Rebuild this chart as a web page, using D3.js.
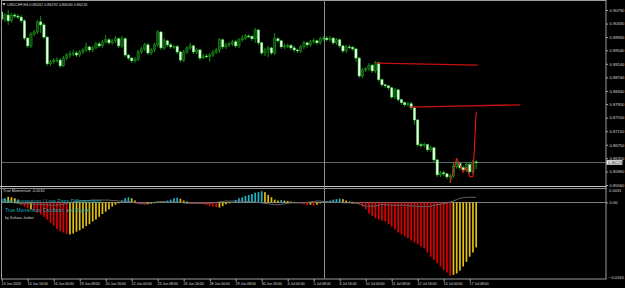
<!DOCTYPE html>
<html><head><meta charset="utf-8">
<script src="https://cdn.jsdelivr.net/npm/d3@7"></script>
<style>html,body{margin:0;padding:0;background:#000;overflow:hidden}</style>
</head><body><svg id="c" width="625" height="288"></svg>
<script>
// ---------- DATA ----------
const symbol = "USDCHF,H4";
const ohlcHeader = "0.86242 0.86292 0.86030 0.86226";
const timeLabels = ["13 Jun 2023","14 Jun 16:00","16 Jun 00:00","19 Jun 08:00","20 Jun 16:00","22 Jun 00:00","23 Jun 08:00","26 Jun 16:00","28 Jun 00:00","29 Jun 08:00","30 Jun 16:00","4 Jul 00:00","5 Jul 08:00","6 Jul 16:00","10 Jul 00:00","11 Jul 08:00","12 Jul 16:00","14 Jul 00:00","17 Jul 08:00"];
const timeTickBars = [0,8,16,24,32,40,48,56,64,72,80,88,96,104,112,120,128,136,144];
const priceTicks = [0.90730,0.90330,0.89930,0.89540,0.89140,0.88740,0.88340,0.87950,0.87550,0.87150,0.86750,0.86350,0.85960,0.85560];
const indTicks = [0.0031,-0.0165];
const lastPrice = 0.86226;

const open = [0.9067,0.9046,0.9058,0.9041,0.9058,0.9055,0.9052,0.9041,0.8990,0.8967,
0.9002,0.9008,0.9038,0.9029,0.8993,0.8914,0.8920,0.8923,0.8925,0.8908,
0.8931,0.8940,0.8943,0.8946,0.8940,0.8949,0.8955,0.8964,0.8955,0.8961,
0.8973,0.8967,0.8979,0.8985,0.8976,0.8982,0.8988,0.8967,0.8988,0.8940,
0.8931,0.8923,0.8928,0.8949,0.8958,0.8970,0.8946,0.8955,0.8970,0.9008,
0.8961,0.8982,0.8970,0.8964,0.8965,0.8949,0.8925,0.8949,0.8961,0.8967,
0.8949,0.8955,0.8931,0.8937,0.8936,0.8940,0.8949,0.8955,0.8985,0.8964,
0.8970,0.8973,0.8979,0.8967,0.8985,0.8990,0.8996,0.8995,0.8988,0.9014,
0.8976,0.8946,0.8955,0.8961,0.8946,0.8988,0.8982,0.8964,0.8967,0.8968,
0.8961,0.8955,0.8952,0.8964,0.8976,0.8970,0.8979,0.8982,0.8976,0.8988,
0.8990,0.8985,0.8990,0.8976,0.8985,0.8967,0.8952,0.8964,0.8963,0.8958,
0.8931,0.8878,0.8896,0.8899,0.8910,0.8893,0.8917,0.8867,0.8852,0.8849,
0.8843,0.8816,0.8837,0.8808,0.8799,0.8793,0.8796,0.8784,0.8748,0.8675,
0.8672,0.8675,0.8660,0.8666,0.8630,0.8586,0.8592,0.8589,0.8580,0.8583,
0.8610,0.8619,0.8607,0.8601,0.8616,0.8595,0.86242];
const high = [0.9073,0.9064,0.9073,0.9064,0.9064,0.9061,0.9058,0.9046,0.8993,0.9008,
0.9014,0.9043,0.9055,0.9035,0.8996,0.8926,0.8931,0.8934,0.8931,0.8937,
0.8946,0.8952,0.8955,0.8952,0.8955,0.8961,0.8976,0.8967,0.8967,0.8979,
0.8979,0.8985,0.8999,0.8990,0.8988,0.8996,0.8993,0.8996,0.8993,0.8943,
0.8934,0.8934,0.8955,0.8964,0.8976,0.8976,0.8961,0.8976,0.9014,0.9011,
0.8990,0.8985,0.8976,0.8970,0.8970,0.8952,0.8955,0.8967,0.8976,0.8970,
0.8961,0.8958,0.8943,0.8943,0.8946,0.8955,0.8961,0.8990,0.8988,0.8976,
0.8979,0.8985,0.8985,0.8990,0.8999,0.9002,0.9002,0.8999,0.9020,0.9017,
0.8979,0.8961,0.8967,0.8964,0.9005,0.8993,0.8985,0.8973,0.8973,0.8973,
0.8967,0.8958,0.8970,0.8982,0.8979,0.8985,0.8990,0.8985,0.8993,0.8996,
0.8996,0.8996,0.8993,0.8990,0.8988,0.8970,0.8970,0.8970,0.8967,0.8961,
0.8934,0.8901,0.8905,0.8916,0.8913,0.8922,0.8920,0.8870,0.8855,0.8852,
0.8846,0.8843,0.8840,0.8811,0.8802,0.8802,0.8802,0.8790,0.8751,0.8681,
0.8681,0.8678,0.8672,0.8669,0.8633,0.8598,0.8598,0.8592,0.8589,0.8622,
0.8628,0.8625,0.8613,0.8622,0.8622,0.8631,0.86292];
const low = [0.9040,0.9038,0.9029,0.9035,0.9049,0.9046,0.9035,0.8984,0.8961,0.8961,
0.8996,0.9002,0.9005,0.8987,0.8908,0.8908,0.8914,0.8917,0.8902,0.8905,
0.8925,0.8931,0.8937,0.8934,0.8934,0.8943,0.8949,0.8949,0.8949,0.8958,
0.8961,0.8961,0.8973,0.8970,0.8970,0.8976,0.8961,0.8961,0.8934,0.8925,
0.8917,0.8917,0.8922,0.8943,0.8952,0.8940,0.8940,0.8949,0.8964,0.8955,
0.8955,0.8964,0.8958,0.8958,0.8943,0.8919,0.8919,0.8943,0.8955,0.8943,
0.8943,0.8925,0.8928,0.8931,0.8920,0.8934,0.8943,0.8946,0.8958,0.8958,
0.8964,0.8967,0.8961,0.8961,0.8979,0.8985,0.8990,0.8982,0.8976,0.8970,
0.8940,0.8937,0.8934,0.8940,0.8940,0.8976,0.8958,0.8958,0.8961,0.8955,
0.8949,0.8946,0.8946,0.8958,0.8961,0.8964,0.8973,0.8970,0.8970,0.8982,
0.8979,0.8979,0.8970,0.8970,0.8961,0.8946,0.8946,0.8958,0.8952,0.8920,
0.8872,0.8872,0.8890,0.8893,0.8887,0.8887,0.8861,0.8846,0.8843,0.8837,
0.8810,0.8810,0.8802,0.8793,0.8787,0.8787,0.8778,0.8734,0.8669,0.8666,
0.8666,0.8654,0.8654,0.8624,0.8580,0.8580,0.8583,0.8574,0.8562,0.8577,
0.8604,0.8601,0.8595,0.8595,0.8589,0.8589,0.86030];
const close = [0.9046,0.9058,0.9041,0.9058,0.9055,0.9052,0.9041,0.8990,0.8967,0.9002,
0.9008,0.9038,0.9029,0.8993,0.8914,0.8920,0.8923,0.8925,0.8908,0.8931,
0.8940,0.8943,0.8946,0.8940,0.8949,0.8955,0.8964,0.8955,0.8961,0.8973,
0.8967,0.8979,0.8985,0.8976,0.8982,0.8988,0.8967,0.8988,0.8940,0.8931,
0.8923,0.8928,0.8949,0.8958,0.8970,0.8946,0.8955,0.8970,0.9008,0.8961,
0.8982,0.8970,0.8964,0.8965,0.8949,0.8925,0.8949,0.8961,0.8967,0.8949,
0.8955,0.8931,0.8937,0.8936,0.8940,0.8949,0.8955,0.8985,0.8964,0.8970,
0.8973,0.8979,0.8967,0.8985,0.8990,0.8996,0.8995,0.8988,0.9014,0.8976,
0.8946,0.8955,0.8961,0.8946,0.8988,0.8982,0.8964,0.8967,0.8968,0.8961,
0.8955,0.8952,0.8964,0.8976,0.8970,0.8979,0.8982,0.8976,0.8988,0.8990,
0.8985,0.8990,0.8976,0.8985,0.8967,0.8952,0.8964,0.8963,0.8958,0.8931,
0.8878,0.8896,0.8899,0.8910,0.8893,0.8917,0.8867,0.8852,0.8849,0.8843,
0.8816,0.8837,0.8808,0.8799,0.8793,0.8796,0.8784,0.8748,0.8675,0.8672,
0.8675,0.8660,0.8666,0.8630,0.8586,0.8592,0.8589,0.8580,0.8583,0.8610,
0.8619,0.8607,0.8601,0.8616,0.8595,0.8624,0.86226];

// trend lines: [barIndex, price]
const trendLine1 = [[115.4,0.8916],[146.5,0.8910]];
const trendLine2 = [[125.4,0.8786],[159.5,0.8793]];
const zigzagPts = [[138,0.8562],[140,0.8635],[142,0.8593],[143,0.8609],[144,0.8580],[145,0.8581],[146,0.8773]];

// indicator
const momentum = [0.0006,0.0009,0.0012,0.0011,0.0009,0.0004,-0.0006,-0.0009,-0.0013,-0.0015,
-0.0018,-0.0022,-0.0026,-0.0031,-0.0037,-0.0044,-0.0050,-0.0057,-0.0062,-0.0065,
-0.0068,-0.0069,-0.0067,-0.0063,-0.0060,-0.0056,-0.0051,-0.0047,-0.0041,-0.0037,
-0.0031,-0.0025,-0.0020,-0.0015,-0.0009,-0.0005,-0.0002,0.0004,0.0009,0.0011,
0.0009,0.0004,-0.0002,-0.0004,-0.0005,-0.0004,-0.0003,-0.0002,0.0002,0.0002,
0.0003,0.0004,0.0006,0.0009,0.0010,0.0008,0.0004,0.0002,-0.0002,-0.0002,
-0.0003,-0.0003,-0.0004,-0.0006,-0.0008,-0.0009,-0.0010,-0.0011,-0.0008,-0.0004,
-0.0002,0.0001,0.0005,0.0009,0.0011,0.0014,0.0016,0.0018,0.0021,0.0022,
0.0024,0.0022,0.0016,0.0011,0.0006,0.0004,0.0005,0.0004,0.0003,0.0002,
0.0001,-0.0001,-0.0002,-0.0004,-0.0006,-0.0005,-0.0007,-0.0005,-0.0002,0.0002,
0.0003,0.0004,0.0006,0.0007,0.0008,0.0007,0.0004,0.0002,0.0001,-0.0002,
-0.0004,-0.0009,-0.0015,-0.0024,-0.0029,-0.0034,-0.0037,-0.0039,-0.0041,-0.0047,
-0.0052,-0.0058,-0.0065,-0.0069,-0.0073,-0.0077,-0.0082,-0.0086,-0.0090,-0.0095,
-0.0099,-0.0108,-0.0117,-0.0124,-0.0131,-0.0138,-0.0146,-0.0151,-0.0158,-0.0156,
-0.0153,-0.0147,-0.0138,-0.0128,-0.0117,-0.0108,-0.0097];
// colour class per bar: t = teal, y = yellow, r = red
const momentumClass = ("tt"+"yyyy"+"rrr"+"y"+"rrrrrrrrrrr"+"yyyyyyyyyyyyyyyy"+"ttt"+"yy"+"rrr"+"yyy"+"t"+"y"+"ttttt"+"yyy"+"rrrrrrrrr"+"yyyy"+"tttttttttt"+"yyyyy"+"t"+"yyyy"+"rrrr"+"y"+"r"+"yy"+"tttttt"+"yyyy"+"rrrrrrrrrrrrrrrrrrrrrrrrrrrrrr"+"yyyyyyyy").split("");
const signal = [0.0001,0.0001,0.0001,0,-0.0001,-0.0002,
-0.0003,-0.0003,-0.0003,-0.0003,
-0.0004,-0.0004,-0.0004,-0.0005,-0.0005,-0.0006,-0.0006,-0.0006,-0.0005,-0.0004,-0.0002,
0,0.0001,0.0002,0.0003,0.0004,0.0004,0.0004,0.0005,0.0005,0.0005,0.0005,0.0005,0.0005,0.0004,0.0004,0.0003,
0.0003,0.0003,0.0002,0.0001,-0.0001,
-0.0002,-0.0003,-0.0003,-0.0002,-0.0001,0,
0.0001,0.0001,0.0001,0.0001,0.0001,0.0001,0.0001,0,-0.0001,-0.0002,
-0.0002,-0.0002,-0.0002,-0.0002,-0.0002,-0.0002,-0.0002,-0.0001,0,0.0001,0.0002,0.0003,0.0003,
0.0003,0.0003,0.0003,0.0003,0.0002,0.0002,0.0002,0.0001,0,-0.0001,
-0.0002,-0.0003,-0.0004,-0.0005,-0.0005,-0.0004,-0.0003,-0.0002,-0.0001,-0.0001,
-0.0001,-0.0001,-0.0001,0,0.0001,0.0002,0.0003,0.0003,
0.0002,0.0001,0.0001,0.0001,0,0,-0.0001,-0.0001,-0.0001,-0.0002,-0.0002,-0.0003,
-0.0006,-0.0008,-0.0008,-0.0008,-0.0008,-0.0006,-0.0005,-0.0005,-0.0006,-0.0006,-0.0006,-0.0006,
-0.0006,-0.0006,-0.0007,-0.0008,-0.0008,-0.0008,-0.0009,-0.0009,-0.0009,-0.0008,-0.0006,-0.0005,-0.0004,-0.0003,-0.0001,0.0001,
0.0003,0.0006,0.0009,0.0010,0.0011,0.0011,0.0011,0.0011];
const indTitle = "True Momentum -0.0010";
const indNote1 = "True Momentum / Low Pass Differentiator";
const indNote2 = "True Momentum Oscillator, and Signal";
const indNote3 = "by Sultana Jonbot";

// ---------- LAYOUT ----------
const X0 = 1, X1 = 606, MT = 1, MB = 186, IT = 188, IB = 279;
const FONT = "'Liberation Sans', Arial, sans-serif";
const svg = d3.select("#c");
svg.append("rect").attr("width",625).attr("height",288).attr("fill","#000");

const x = d3.scaleLinear().domain([0, 1]).range([1.7, 4.95]);
const yP = d3.scaleLinear().domain([0.85560, 0.90730]).range([185, 10]);
const yI = d3.scaleLinear().domain([-0.0165, 0.0031]).range([IB, IT]);

const defs = svg.append("defs");
defs.append("clipPath").attr("id","cm").append("rect").attr("x",X0).attr("y",MT).attr("width",X1-X0).attr("height",MB-MT);
defs.append("clipPath").attr("id","ci").append("rect").attr("x",X0).attr("y",IT).attr("width",X1-X0).attr("height",IB-IT);

// crosshair / level lines (behind)
svg.append("line").attr("x1",X0).attr("x2",X1).attr("y1",162.5).attr("y2",162.5).attr("stroke","#5f6670").attr("stroke-width",1);
svg.append("line").attr("x1",X0).attr("x2",X1).attr("y1",Math.round(yI(0))+0.5).attr("y2",Math.round(yI(0))+0.5).attr("stroke","#7c7c7c").attr("stroke-width",1);

// ---------- candles ----------
const bars = d3.range(close.length).map(i => ({i, o:open[i], h:high[i], l:low[i], c:close[i]}));
const gm = svg.append("g").attr("clip-path","url(#cm)");
gm.selectAll("line.w").data(bars).join("line").attr("class","w")
  .attr("x1",d=>x(d.i)).attr("x2",d=>x(d.i))
  .attr("y1",d=>yP(d.h)).attr("y2",d=>yP(d.l))
  .attr("stroke","#139413").attr("stroke-width",1);
gm.selectAll("rect.b").data(bars).join("rect").attr("class","b")
  .attr("x",d=>x(d.i)-1.15).attr("width",2.3)
  .attr("y",d=>yP(Math.max(d.o,d.c)))
  .attr("height",d=>Math.max(0.8, Math.abs(yP(d.o)-yP(d.c))))
  .attr("fill",d=>d.c>=d.o ? "#0f4a0f" : "#eaffea")
  .attr("stroke",d=>d.c>=d.o ? "#1fa01f" : "#4ee44e")
  .attr("stroke-width",0.5);

// trend lines and zigzag
const lineP = d3.line().x(d=>x(d[0])).y(d=>yP(d[1]));
gm.append("path").attr("d",lineP(trendLine1)).attr("fill","none").attr("stroke","#c81010").attr("stroke-width",1.3);
gm.append("path").attr("d",lineP(trendLine2)).attr("fill","none").attr("stroke","#c81010").attr("stroke-width",1.3);
gm.append("path").attr("d",lineP(zigzagPts)).attr("fill","none").attr("stroke","#ff1a1a").attr("stroke-width",1);

// ---------- indicator ----------
const colorOf = {t:"#1eb4c6", y:"#e0c010", r:"#e00000"};
const gi = svg.append("g").attr("clip-path","url(#ci)");
gi.selectAll("rect.h").data(momentum.map((v,i)=>({i,v,k:momentumClass[i]||(v>=0?"t":"r")}))).join("rect").attr("class","h")
  .attr("x",d=>x(d.i)-0.85).attr("width",1.7)
  .attr("y",d=>Math.min(yI(d.v),yI(0)))
  .attr("height",d=>Math.abs(yI(d.v)-yI(0)))
  .attr("fill",d=>colorOf[d.k]);
gi.append("path").datum(signal).attr("d",d3.line().x((d,i)=>x(i)).y(d=>yI(d)))
  .attr("fill","none").attr("stroke","#6e6e6e").attr("stroke-width",0.9);

// ---------- frame ----------
svg.append("rect").attr("x",1.5).attr("y",0.5).attr("width",X1-1.5).attr("height",IB-0.5)
  .attr("fill","none").attr("stroke","#9c9c9c").attr("stroke-width",1);
svg.append("line").attr("x1",0).attr("x2",X1+0.5).attr("y1",186.5).attr("y2",186.5).attr("stroke","#c4c4c4");
svg.append("line").attr("x1",0).attr("x2",X1+0.5).attr("y1",188.5).attr("y2",188.5).attr("stroke","#8a8a8a");
// vertical crosshair
svg.append("line").attr("x1",324.5).attr("x2",324.5).attr("y1",0).attr("y2",IB).attr("stroke","#8a8a8a").attr("stroke-width",1);

// ---------- axes ----------
function styleAxis(g, fs){
  g.select(".domain").remove();
  g.selectAll(".tick line").attr("stroke","#a8a8a8");
  g.selectAll("text").attr("fill","#d8d8d8").style("font-family",FONT).style("font-size",fs+"px");
}
const ax = svg.append("g").attr("transform",`translate(0,${IB})`)
  .call(d3.axisBottom(x).tickValues(timeTickBars).tickFormat((d,i)=>timeLabels[i]).tickSize(2.5).tickPadding(1.2));
styleAxis(ax, 3.7);
ax.selectAll("text").attr("text-anchor","start").attr("dx","-0.6").style("letter-spacing","-0.1px");

const ap = svg.append("g").attr("transform",`translate(${X1},0)`)
  .call(d3.axisRight(yP).tickValues(priceTicks).tickFormat(d3.format(".5f")).tickSize(2).tickPadding(1.5));
styleAxis(ap, 4.1);

const ai = svg.append("g").attr("transform",`translate(${X1},0)`)
  .call(d3.axisRight(yI).tickValues(indTicks).tickFormat(d3.format(".4f")).tickSize(0).tickPadding(3));
styleAxis(ai, 4.1);
ai.selectAll(".tick").filter(d=>d>0).select("text").attr("dy","0.95em");
ai.selectAll(".tick").filter(d=>d<0).select("text").attr("dy","-0.1em");
const a0 = svg.append("g").attr("transform",`translate(${X1},0)`)
  .call(d3.axisRight(yI).tickValues([0]).tickFormat(()=> "0.00").tickSize(2).tickPadding(1.5));
styleAxis(a0, 4.1);

// current price box
const cp = svg.append("g");
cp.append("rect").attr("x",X1+0.5).attr("y",yP(lastPrice)-2.3).attr("width",16).attr("height",4.6).attr("fill","#f4f4f4");
cp.append("text").attr("x",X1+2).attr("y",yP(lastPrice)+1.5).text(lastPrice.toFixed(5))
  .attr("fill","#000").style("font-family",FONT).style("font-size","4.1px");

// ---------- texts ----------
svg.append("path").attr("d","M2.3,3.2 L5.7,3.2 L4,5.6 Z").attr("fill","#e0e0e0");
svg.append("text").attr("x",7).attr("y",5.9).text(symbol+" "+ohlcHeader)
  .attr("fill","#d8d8d8").style("font-family",FONT).style("font-size","3.8px");
svg.append("text").attr("x",3).attr("y",192.4).text(indTitle)
  .attr("fill","#d8d8d8").style("font-family",FONT).style("font-size","3.8px");
svg.append("text").attr("x",2).attr("y",203.4).text(indNote1)
  .attr("fill","#1aa6b6").style("font-family",FONT).style("font-size","5.4px");
svg.append("text").attr("x",5).attr("y",212).text(indNote2)
  .attr("fill","#1aa6b6").style("font-family",FONT).style("font-size","5px");
svg.append("text").attr("x",5).attr("y",219).text(indNote3)
  .attr("fill","#cfcfcf").style("font-family",FONT).style("font-size","3.6px");
</script>
</body></html>
